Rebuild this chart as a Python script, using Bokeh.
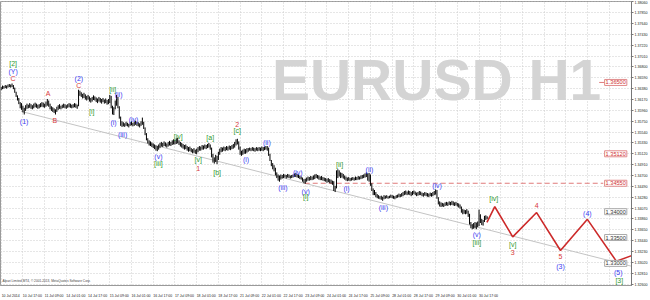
from bokeh.plotting import figure
from bokeh.models import FixedTicker, Range1d, Label, ColumnDataSource
from bokeh.embed import file_html
from bokeh.resources import INLINE
from bokeh.core.properties import value

# ---------------- data ----------------
high = [
1.3641,1.3644,1.3643,1.3645,1.3644,1.3646,1.3647,1.3646,1.3648,1.3645,
1.3640,1.3632,1.3625,1.3620,1.3612,1.3610,1.3605,1.3601,1.3606,1.3609,
1.3607,1.3610,1.3608,1.3606,1.3609,1.3611,1.3609,1.3607,1.3608,1.3610,
1.3612,1.3611,1.3609,1.3613,1.3618,1.3615,1.3609,1.3604,1.3602,1.3600,
1.3598,1.3603,1.3606,1.3608,1.3605,1.3607,1.3609,1.3608,1.3606,1.3608,
1.3610,1.3609,1.3607,1.3608,1.3610,1.3609,1.3607,1.3636,1.3634,1.3631,
1.3628,1.3630,1.3627,1.3624,1.3626,1.3623,1.3620,1.3622,1.3625,1.3623,
1.3621,1.3619,1.3622,1.3620,1.3618,1.3620,1.3617,1.3619,1.3616,1.3618,
1.3626,1.3624,1.3605,1.3602,1.3615,1.3626,1.3622,1.3604,1.3584,1.3575,
1.3573,1.3571,1.3574,1.3572,1.3570,1.3573,1.3575,1.3572,1.3574,1.3576,
1.3574,1.3573,1.3571,1.3575,1.3582,1.3574,1.3563,1.3552,1.3542,1.3538,
1.3536,1.3534,1.3532,1.3530,1.3528,1.3527,1.3530,1.3533,1.3535,1.3533,
1.3536,1.3534,1.3532,1.3535,1.3537,1.3535,1.3538,1.3540,1.3539,1.3542,
1.3543,1.3538,1.3535,1.3533,1.3531,1.3529,1.3530,1.3527,1.3525,1.3526,
1.3523,1.3521,1.3523,1.3520,1.3522,1.3525,1.3527,1.3526,1.3529,1.3528,
1.3530,1.3529,1.3531,1.3533,1.3530,1.3524,1.3512,1.3505,1.3510,1.3508,
1.3516,1.3522,1.3525,1.3524,1.3526,1.3525,1.3527,1.3526,1.3528,1.3527,
1.3529,1.3531,1.3535,1.3540,1.3541,1.3536,1.3526,1.3518,1.3520,1.3522,
1.3521,1.3523,1.3523,1.3524,1.3523,1.3525,1.3524,1.3523,1.3525,1.3524,
1.3525,1.3524,1.3526,1.3525,1.3526,1.3527,1.3527,1.3524,1.3512,1.3500,
1.3494,1.3490,1.3485,1.3476,1.3472,1.3470,1.3472,1.3471,1.3473,1.3472,
1.3471,1.3473,1.3472,1.3470,1.3471,1.3472,1.3474,1.3475,1.3473,1.3472,
1.3470,1.3468,1.3466,1.3463,1.3464,1.3466,1.3468,1.3467,1.3469,1.3468,
1.3470,1.3472,1.3473,1.3471,1.3470,1.3468,1.3469,1.3467,1.3466,1.3465,
1.3464,1.3465,1.3463,1.3462,1.3460,1.3459,1.3450,1.3480,1.3482,1.3480,
1.3476,1.3475,1.3473,1.3470,1.3468,1.3466,1.3467,1.3465,1.3466,1.3467,
1.3466,1.3468,1.3467,1.3469,1.3468,1.3470,1.3471,1.3472,1.3474,1.3476,
1.3474,1.3475,1.3472,1.3455,1.3445,1.3442,1.3438,1.3434,1.3432,1.3430,
1.3431,1.3429,1.3432,1.3431,1.3432,1.3430,1.3431,1.3433,1.3432,1.3431,
1.3430,1.3432,1.3433,1.3435,1.3434,1.3436,1.3438,1.3440,1.3441,1.3439,
1.3441,1.3440,1.3438,1.3440,1.3441,1.3439,1.3437,1.3438,1.3440,1.3439,
1.3437,1.3436,1.3438,1.3437,1.3436,1.3435,1.3437,1.3436,1.3438,1.3440,
1.3443,1.3442,1.3428,1.3420,1.3418,1.3417,1.3416,1.3418,1.3419,1.3418,
1.3420,1.3419,1.3421,1.3420,1.3418,1.3419,1.3417,1.3416,1.3414,1.3410,
1.3405,1.3404,1.3403,1.3405,1.3402,1.3396,1.3380,1.3376,1.3378,1.3380,
1.3379,1.3381,1.3404,1.3395,1.3386,1.3384,1.3392,1.3393,1.3391]
low = [
1.3635,1.3637,1.3638,1.3639,1.3638,1.3640,1.3641,1.3640,1.3641,1.3637,
1.3630,1.3622,1.3615,1.3608,1.3600,1.3597,1.3592,1.3588,1.3595,1.3599,
1.3600,1.3601,1.3599,1.3598,1.3600,1.3602,1.3601,1.3599,1.3600,1.3602,
1.3603,1.3602,1.3601,1.3603,1.3605,1.3603,1.3598,1.3595,1.3593,1.3591,
1.3588,1.3593,1.3597,1.3599,1.3598,1.3600,1.3601,1.3600,1.3599,1.3601,
1.3602,1.3601,1.3600,1.3601,1.3602,1.3601,1.3599,1.3604,1.3624,1.3622,
1.3619,1.3620,1.3617,1.3615,1.3617,1.3613,1.3611,1.3613,1.3616,1.3615,
1.3612,1.3610,1.3613,1.3611,1.3609,1.3612,1.3609,1.3610,1.3607,1.3608,
1.3610,1.3600,1.3588,1.3587,1.3598,1.3605,1.3600,1.3580,1.3566,1.3564,
1.3565,1.3564,1.3566,1.3565,1.3563,1.3566,1.3567,1.3565,1.3566,1.3568,
1.3566,1.3565,1.3563,1.3566,1.3568,1.3560,1.3548,1.3538,1.3532,1.3528,
1.3527,1.3525,1.3523,1.3521,1.3518,1.3517,1.3520,1.3523,1.3526,1.3525,
1.3527,1.3526,1.3524,1.3526,1.3528,1.3527,1.3529,1.3530,1.3530,1.3531,
1.3532,1.3529,1.3526,1.3524,1.3522,1.3520,1.3521,1.3518,1.3516,1.3517,
1.3515,1.3513,1.3514,1.3512,1.3511,1.3515,1.3518,1.3518,1.3520,1.3520,
1.3522,1.3521,1.3523,1.3524,1.3520,1.3505,1.3495,1.3493,1.3496,1.3492,
1.3500,1.3510,1.3515,1.3516,1.3518,1.3517,1.3519,1.3518,1.3520,1.3519,
1.3521,1.3522,1.3524,1.3528,1.3530,1.3520,1.3510,1.3508,1.3510,1.3512,
1.3512,1.3514,1.3516,1.3518,1.3517,1.3518,1.3517,1.3516,1.3518,1.3517,
1.3518,1.3517,1.3518,1.3517,1.3519,1.3520,1.3518,1.3508,1.3498,1.3488,
1.3482,1.3478,1.3470,1.3465,1.3460,1.3458,1.3462,1.3464,1.3465,1.3466,
1.3464,1.3466,1.3465,1.3464,1.3465,1.3466,1.3467,1.3467,1.3466,1.3465,
1.3463,1.3462,1.3458,1.3455,1.3454,1.3458,1.3460,1.3460,1.3461,1.3461,
1.3462,1.3463,1.3465,1.3464,1.3462,1.3461,1.3461,1.3460,1.3459,1.3458,
1.3456,1.3457,1.3455,1.3454,1.3452,1.3440,1.3438,1.3445,1.3465,1.3468,
1.3465,1.3466,1.3464,1.3462,1.3460,1.3459,1.3460,1.3459,1.3460,1.3461,
1.3460,1.3461,1.3461,1.3462,1.3462,1.3463,1.3464,1.3465,1.3466,1.3467,
1.3460,1.3458,1.3450,1.3440,1.3432,1.3432,1.3428,1.3426,1.3425,1.3424,
1.3423,1.3421,1.3424,1.3425,1.3426,1.3425,1.3426,1.3427,1.3426,1.3425,
1.3424,1.3426,1.3427,1.3428,1.3428,1.3429,1.3430,1.3432,1.3433,1.3432,
1.3433,1.3432,1.3430,1.3432,1.3434,1.3432,1.3430,1.3431,1.3432,1.3432,
1.3430,1.3429,1.3431,1.3430,1.3429,1.3428,1.3430,1.3429,1.3430,1.3432,
1.3433,1.3425,1.3414,1.3410,1.3409,1.3410,1.3409,1.3411,1.3412,1.3411,
1.3413,1.3412,1.3413,1.3412,1.3411,1.3412,1.3410,1.3408,1.3406,1.3398,
1.3395,1.3396,1.3395,1.3396,1.3390,1.3375,1.3368,1.3366,1.3367,1.3368,
1.3366,1.3370,1.3372,1.3378,1.3374,1.3373,1.3380,1.3384,1.3386]
last_price = 1.33887

x_labels = ["10 Jul 2014", "10 Jul 17:00", "11 Jul 09:00", "14 Jul 01:00", "14 Jul 17:00",
            "15 Jul 09:00", "16 Jul 01:00", "16 Jul 17:00", "17 Jul 09:00", "18 Jul 01:00",
            "18 Jul 17:00", "21 Jul 09:00", "22 Jul 01:00", "22 Jul 17:00", "23 Jul 09:00",
            "24 Jul 01:00", "24 Jul 17:00", "25 Jul 09:00", "28 Jul 01:00", "28 Jul 17:00",
            "29 Jul 09:00", "30 Jul 01:00", "30 Jul 17:00"]
bars_per_label = 16
y_ticks = [1.3806, 1.3785, 1.3764, 1.3743, 1.3722, 1.3701, 1.3680, 1.3659, 1.3638,
           1.3617, 1.3596, 1.3575, 1.3554, 1.3533, 1.3512, 1.3491, 1.3470, 1.3449,
           1.3428, 1.3407, 1.3386, 1.3365, 1.3344, 1.3323, 1.3302, 1.3281, 1.3260]

# projected path (bar, price)
proj_bar = [357.8, 363.6, 376.8, 394.4, 412.0, 431.8, 453.1, 472.9]
proj_price = [1.33795, 1.34096, 1.33513, 1.33983, 1.33249, 1.33852, 1.33043, 1.33230]

# support trend line (bar, price)
trend_bar = [14.7, 464.3]
trend_price = [1.35940, 1.32945]

# horizontal levels
red_levels = [1.36500, 1.35120, 1.34550]
gray_levels = [1.34000, 1.33500, 1.33000]
dashed_level = 1.34550
dashed_from_bar = 223.6
dashed_to_bar = 443.5

# wave labels
wave_text = ["[2]", "(Y)", "C", "(1)", "A", "B", "(2)", "C", "[i]", "[ii]", "(ii)", "(i)",
             "(iii)", "(iv)", "(v)", "[iii]", "[iv]", "[v]", "1", "[a]", "[b]", "2", "[c]",
             "(i)", "(ii)", "(iii)", "(iv)", "(v)", "[i]", "[ii]", "(i)", "(ii)", "(iii)",
             "(iv)", "(v)", "[iii]", "[iv]", "4", "[v]", "3", "5", "(3)", "(4)", "(5)", "[3]"]
wave_bar = [8.8, 8.8, 8.8, 16.9, 34.5, 39.6, 57.2, 57.2, 66.7, 82.1, 86.5, 82.8,
            89.4, 97.5, 115.8, 115.8, 130.5, 145.2, 145.2, 154.0, 159.1, 173.8, 173.8,
            180.4, 195.7, 207.5, 218.5, 224.3, 224.3, 249.3, 254.4, 271.3, 281.5,
            321.1, 350.4, 350.4, 362.9, 394.4, 376.8, 376.8, 412.0, 412.0, 431.8, 454.5, 455.3]
wave_price = [1.36862, 1.36712, 1.36580, 1.35752, 1.36279, 1.35771, 1.36580, 1.36448,
              1.35940, 1.36354, 1.36260, 1.35733, 1.35489, 1.35790, 1.35075, 1.34924,
              1.35451, 1.35000, 1.34830, 1.35432, 1.34755, 1.35696, 1.35564, 1.35000,
              1.35338, 1.34473, 1.34755, 1.34397, 1.34285, 1.34905, 1.34454, 1.34811,
              1.34077, 1.34510, 1.33551, 1.33400, 1.34247, 1.34115, 1.33363, 1.33212,
              1.33137, 1.32949, 1.33965, 1.32817, 1.32666]

BLUE, RED, GREEN = "#3b3bf0", "#d83a3a", "#2f9a2f"
def wave_color(t):
    if t.startswith("["):
        return GREEN
    if t.startswith("("):
        return BLUE
    return RED
wave_colors = [wave_color(t) for t in wave_text]

# ---------------- figure ----------------
p = figure(width=650, height=300, output_backend="svg", toolbar_location=None,
           x_range=Range1d(-0.5, 464.3), y_range=Range1d(1.32572, 1.38066),
           y_axis_location="right", min_border_left=0, min_border_top=1,
           min_border_right=16, min_border_bottom=7)
p.background_fill_color = "white"
p.border_fill_color = "white"
p.outline_line_color = "#9a9a9a"

# grid
p.xgrid.ticker = FixedTicker(ticks=[i * bars_per_label for i in range(len(x_labels) + 6)])
p.ygrid.ticker = FixedTicker(ticks=y_ticks)
for g in (p.xgrid, p.ygrid):
    g.grid_line_color = "#cccccc"
    g.grid_line_dash = "1 2"
    g.grid_line_width = 1

# x axis
xa = p.xaxis[0]
xa.ticker = FixedTicker(ticks=[i * bars_per_label + 7 for i in range(len(x_labels))])
xa.major_label_overrides = {i * bars_per_label + 7: s for i, s in enumerate(x_labels)}
xa.major_label_text_font_size = "3.5px"
xa.major_label_text_font = "Liberation Sans"
xa.major_label_text_color = "#222222"
xa.major_tick_line_color = None
xa.minor_tick_line_color = None
xa.major_label_standoff = 2
xa.axis_line_color = "#9a9a9a"

# y axis
ya = p.yaxis[0]
ya.ticker = FixedTicker(ticks=y_ticks)
ya.major_label_overrides = {v: f"{v:.5f}" for v in y_ticks}
ya.major_label_text_font_size = "3.6px"
ya.major_label_text_font = "Liberation Sans"
ya.major_label_text_color = "#222222"
ya.major_tick_out = 2
ya.major_tick_in = 0
ya.major_tick_line_color = "#777777"
ya.minor_tick_line_color = None
ya.major_label_standoff = 1
ya.axis_line_color = "#777777"

# watermark
p.add_layout(Label(x=199.4, y=1.36542, text="EURUSD H1", text_font="Liberation Sans",
                   text_font_style="bold", text_font_size="57px", text_color="#d4d4d4",
                   text_baseline="alphabetic", text_align="left", level="underlay"))

# trend line
p.line(trend_bar, trend_price, line_color="#c4c4c4", line_width=1)

# dashed level
p.segment(x0=[dashed_from_bar], y0=[dashed_level], x1=[dashed_to_bar], y1=[dashed_level],
          line_color="#e07b7b", line_width=1, line_dash="5 3")
p.segment(x0=[440.5], y0=[red_levels[0]], x1=[444.5], y1=[red_levels[0]],
          line_color="#e07b7b", line_width=1)

# price bars
bars = list(range(len(high)))
src = ColumnDataSource(dict(x=bars, hi=high, lo=low))
p.segment(x0="x", y0="lo", x1="x", y1="hi", source=src, line_color="black", line_width=1)

# projection
p.line(proj_bar, proj_price, line_color="#cc2a2a", line_width=1.6)

# wave labels
wsrc = ColumnDataSource(dict(x=wave_bar, y=wave_price, t=wave_text, c=wave_colors))
p.text(x="x", y="y", text="t", text_color="c", source=wsrc, text_font=value("Liberation Sans"),
       text_font_size="7px", text_align="center", text_baseline="middle")

# level boxes
for lv in red_levels:
    p.add_layout(Label(x=444.5, y=lv, text=f"{lv:.5f}", text_font="Liberation Sans",
                       text_font_size="5.6px", text_color="#d03030", text_baseline="middle",
                       background_fill_color="white", border_line_color="#e08a8a",
                       padding=1))
for lv in gray_levels:
    p.add_layout(Label(x=444.5, y=lv, text=f"{lv:.5f}", text_font="Liberation Sans",
                       text_font_size="5.6px", text_color="#333333", text_baseline="middle",
                       background_fill_color="white", border_line_color="#aaaaaa",
                       padding=1))

# last price tag on axis
p.add_layout(Label(x=464.6, y=last_price, text=f"{last_price:.5f}", text_font="Liberation Sans",
                   text_font_size="3.8px", text_color="white", text_baseline="middle",
                   background_fill_color="black", padding=1))

# copyright
p.add_layout(Label(x=1.0, y=1.3267, text="Alpari Limited MT4, \u00a9 2001-2013, MetaQuotes Software Corp.",
                   text_font="Liberation Sans", text_font_size="3.2px", text_color="#444444",
                   text_baseline="middle"))

open("out.html", "w").write(file_html(p, INLINE))
